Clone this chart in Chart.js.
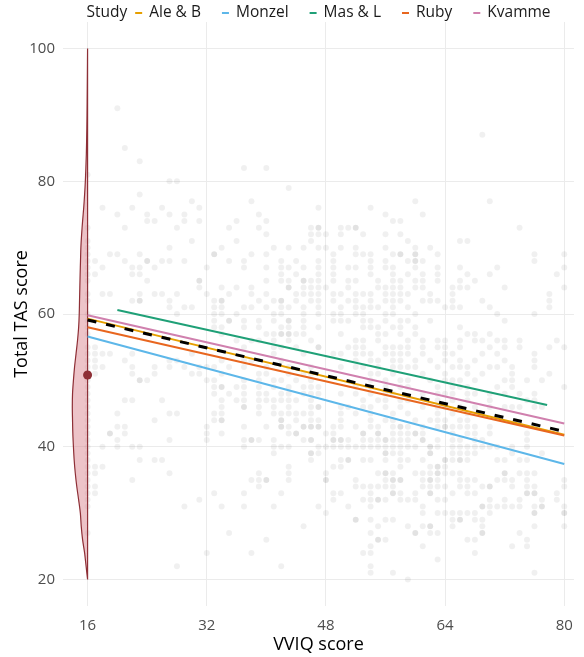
<!DOCTYPE html>
<html>
<head>
<meta charset="utf-8">
<script src="https://cdn.jsdelivr.net/npm/chart.js@4.4.1/dist/chart.umd.min.js"></script>
<style>
  html, body { margin: 0; padding: 0; background: #fff; }
  canvas { display: block; }
</style>
</head>
<body>
<canvas id="tasChart" width="584" height="657"></canvas>
<script>
// studies and their fitted lines
const studies = ['Ale & B', 'Monzel', 'Mas & L', 'Ruby', 'Kvamme'];
const studyColors = ['#E69F00', '#5DB7E9', '#1FA077', '#E8661F', '#D080AE'];
const lineStartX = [16, 16, 20, 16, 16];
const lineEndX = [80, 80, 77.7, 80, 80];
const lineStartY = [59.3, 56.6, 60.6, 58.0, 59.8];
const lineEndY = [41.8, 37.4, 46.3, 41.7, 43.5];

// pooled fit (dashed)
const pooledX = [16, 80];
const pooledY = [59.1, 42.3];

// TAS density at VVIQ = 16 (half violin), width in VVIQ units
const violinY = [20, 22, 24, 26, 28, 30, 32, 34, 36, 38, 40, 42, 44, 46, 48, 50, 52, 54, 56, 58, 60, 62, 64, 66, 68, 70, 72, 74, 76, 78, 80, 84, 88, 92, 96, 100];
const violinWidth = [0, 0.2, 0.4, 0.67, 0.85, 0.97, 1.2, 1.45, 1.65, 1.8, 1.9, 1.98, 2.02, 2.05, 2.02, 1.9, 1.75, 1.55, 1.35, 1.2, 1.12, 1.08, 1.04, 1.0, 0.95, 0.9, 0.8, 0.67, 0.52, 0.4, 0.3, 0.17, 0.1, 0.06, 0.03, 0];
const meanTAS = 50.8;

// individual participants: TAS level -> VVIQ scores at that level
const tasLevels = [91, 87, 85, 83, 82, 81, 80, 79, 78, 77, 76, 75, 74, 73, 72, 71, 70, 69, 68, 67, 66, 65, 64, 63, 62, 61, 60, 59, 58, 57, 56, 55, 54, 53, 52, 51, 50, 49, 48, 47, 46, 45, 44, 43, 42, 41, 40, 39, 38, 37, 36, 35, 34, 33, 32, 31, 30, 29, 28, 27, 26, 25, 24, 23, 22, 21, 20];
const vviqAtLevel = [
  [20],
  [69],
  [21],
  [23],
  [37, 40],
  [16],
  [27, 28],
  [43],
  [23],
  [30, 38, 60, 70],
  [18, 22, 26, 31, 47, 54],
  [20, 24, 27, 29, 39, 56, 61],
  [24, 25, 29, 31, 36, 40, 57, 58],
  [16, 21, 28, 35, 39, 46, 47, 47, 50, 51, 52, 52, 74],
  [40, 46, 47, 48, 50, 53, 56, 58],
  [16, 30, 36, 46, 59, 66, 67],
  [16, 27, 34, 41, 43, 45, 47, 48, 50, 52, 56, 60, 62],
  [16, 19, 20, 23, 33, 33, 38, 40, 49, 52, 53, 54, 57, 58, 58, 60, 60, 63, 76, 80],
  [16, 17, 21, 24, 24, 26, 27, 29, 35, 37, 42, 44, 47, 49, 54, 56, 59, 60, 60, 61, 76],
  [16, 18, 22, 23, 25, 32, 37, 40, 42, 43, 45, 47, 49, 51, 52, 54, 56, 57, 60, 63, 66, 71, 80],
  [16, 17, 22, 23, 42, 44, 47, 49, 54, 57, 59, 61, 63, 67, 70, 79],
  [16, 24, 31, 31, 40, 42, 43, 45, 45, 46, 47, 49, 51, 52, 55, 57, 58, 60, 61, 63, 66, 68],
  [31, 34, 36, 38, 43, 43, 45, 46, 47, 48, 51, 55, 56, 57, 58, 60, 61, 65, 66, 67, 72, 80],
  [16, 18, 19, 23, 25, 26, 28, 32, 35, 38, 40, 44, 45, 46, 47, 49, 50, 52, 53, 54, 56, 57, 58, 59, 62, 65, 78],
  [16, 22, 23, 23, 27, 33, 34, 34, 39, 41, 42, 42, 44, 46, 47, 49, 51, 52, 54, 56, 57, 58, 61, 62, 63, 65, 69, 78],
  [27, 29, 30, 33, 34, 37, 38, 40, 42, 43, 45, 47, 50, 52, 53, 54, 55, 57, 59, 64, 65, 66, 70, 78],
  [16, 28, 33, 34, 36, 41, 42, 45, 47, 49, 50, 52, 53, 56, 57, 60, 71, 76],
  [16, 33, 35, 35, 37, 39, 41, 43, 43, 45, 49, 50, 51, 53, 54, 56, 58, 59, 62, 72],
  [16, 33, 34, 37, 39, 42, 43, 45, 47, 53, 54, 55, 57, 58, 60, 66],
  [16, 34, 40, 41, 42, 42, 43, 43, 44, 45, 50, 55, 56, 58, 60, 67, 68, 70],
  [36, 38, 39, 41, 43, 46, 52, 53, 55, 59, 61, 63, 64, 66, 68, 69, 71, 72, 74, 79],
  [16, 17, 37, 41, 42, 44, 47, 47, 51, 52, 53, 56, 57, 58, 59, 61, 63, 64, 66, 70, 72, 74, 78, 80],
  [16, 17, 18, 19, 22, 30, 41, 45, 49, 50, 52, 53, 54, 56, 57, 58, 59, 61, 64, 65, 69, 71, 76],
  [16, 17, 21, 27, 28, 34, 37, 38, 42, 52, 54, 55, 57, 58, 60, 62, 64, 66, 68, 72, 76],
  [16, 17, 18, 22, 25, 27, 29, 31, 32, 33, 35, 37, 40, 43, 46, 50, 52, 53, 55, 57, 58, 59, 60, 63, 65, 66, 67, 70, 71, 73, 76],
  [16, 17, 22, 25, 30, 31, 34, 39, 40, 43, 45, 46, 54, 55, 57, 61, 64, 67, 69, 73, 78],
  [16, 23, 23, 24, 32, 33, 37, 39, 41, 42, 44, 46, 54, 56, 58, 59, 62, 64, 65, 66, 68, 72, 73, 75, 77],
  [16, 33, 34, 34, 36, 37, 39, 41, 43, 45, 46, 47, 52, 54, 56, 58, 59, 63, 65, 66, 67, 71, 73, 80],
  [16, 33, 35, 37, 39, 40, 42, 43, 45, 46, 47, 50, 52, 54, 56, 57, 61, 63, 64, 65, 67, 68, 70, 72, 74, 76],
  [16, 21, 22, 26, 34, 36, 37, 39, 40, 41, 42, 43, 44, 46, 53, 55, 56, 58, 59, 63, 65, 67, 70, 75, 76],
  [16, 34, 37, 37, 39, 41, 43, 46, 47, 47, 50, 51, 53, 54, 56, 58, 61, 63, 64, 66, 68, 70, 72, 73, 74, 76, 77],
  [16, 20, 27, 28, 33, 34, 39, 41, 42, 43, 44, 45, 46, 50, 52, 54, 57, 59, 63, 65, 67],
  [16, 25, 33, 34, 34, 42, 42, 44, 46, 47, 50, 54, 56, 57, 60, 62, 63, 64, 66, 67],
  [16, 20, 21, 32, 37, 40, 42, 42, 43, 45, 45, 46, 46, 47, 47, 49, 50, 52, 54, 55, 57, 58, 58, 59, 61, 63, 64, 64, 65, 66, 67, 68, 70],
  [16, 19, 19, 21, 32, 34, 43, 44, 44, 48, 49, 53, 53, 55, 55, 57, 58, 59, 60, 60, 61, 65, 67, 68, 70, 75],
  [16, 20, 27, 32, 37, 38, 38, 39, 41, 45, 46, 46, 49, 49, 50, 50, 51, 53, 54, 55, 56, 56, 57, 58, 59, 61, 61, 63, 65, 66, 68, 69, 75],
  [16, 18, 20, 22, 23, 37, 41, 42, 43, 47, 48, 49, 50, 51, 52, 53, 54, 55, 56, 57, 58, 59, 60, 62, 62, 63, 65, 66, 67, 68, 69, 70, 71, 73, 75],
  [16, 41, 46, 46, 47, 56, 56, 57, 58, 62, 62, 65, 66, 67, 68, 73, 77],
  [16, 23, 25, 26, 46, 50, 51, 51, 53, 54, 56, 58, 59, 61, 64, 64, 65, 66, 66, 67, 71, 72, 74, 75],
  [16, 17, 18, 43, 49, 50, 58, 62, 63, 63, 64],
  [16, 17, 27, 39, 43, 48, 55, 56, 56, 57, 60, 61, 62, 63, 63, 64, 65, 66, 72, 72, 74, 75, 76],
  [16, 22, 38, 39, 40, 40, 43, 48, 48, 52, 56, 57, 57, 58, 58, 61, 62, 62, 63, 66, 67, 68, 71, 72, 73, 75, 80],
  [16, 17, 39, 52, 53, 54, 55, 56, 57, 61, 62, 63, 64, 66, 67, 69, 70, 70, 73, 75, 76, 80],
  [16, 17, 33, 37, 42, 49, 50, 54, 57, 57, 58, 60, 62, 62, 65, 67, 68, 75, 75, 76, 76, 79],
  [16, 31, 49, 53, 54, 55, 55, 56, 58, 59, 60, 63, 64, 70, 72, 74, 77, 79],
  [16, 29, 34, 37, 41, 47, 51, 54, 61, 69, 69, 70, 71, 72, 73, 74, 76, 77, 77, 80],
  [48, 61, 63, 64, 65, 66, 67, 68, 70, 76, 76, 80, 80],
  [52, 52, 54, 56, 57, 65, 66, 66, 68, 69],
  [45, 55, 59, 61, 62, 62, 65, 69, 76, 80],
  [16, 35, 54, 60, 60, 62, 63, 69, 69, 74],
  [40, 55, 55, 56, 67, 68, 75],
  [54, 61, 73, 75],
  [32, 38, 53, 54, 68],
  [63],
  [28, 42, 54],
  [54, 57, 76],
  [59]
];

// axis ticks
const xTicks = [16, 32, 48, 64, 80];
const yTicks = [20, 40, 60, 80, 100];

const FONT = '"Open Sans", "DejaVu Sans", sans-serif';

const participants = [];
tasLevels.forEach((tas, i) => {
  vviqAtLevel[i].forEach(v => participants.push({ x: v, y: tas }));
});

// half violin: left outline going up, then back down along x = 16
const violinPath = violinY.map((y, i) => ({ x: 16 - violinWidth[i], y: y }));
violinPath.push({ x: 16, y: 100 }, { x: 16, y: 20 });

const datasets = [
  {
    label: 'participants',
    data: participants,
    pointRadius: 3,
    pointHoverRadius: 3,
    pointBackgroundColor: 'rgba(0,0,0,0.058)',
    pointBorderWidth: 0,
    order: 20
  },
  {
    label: 'density',
    data: violinPath,
    showLine: true,
    tension: 0.3,
    pointRadius: 0,
    borderColor: '#8E2F36',
    borderWidth: 1.2,
    backgroundColor: 'rgba(214, 122, 134, 0.45)',
    fill: 'shape',
    order: 15
  }
];

studies.forEach((name, i) => {
  datasets.push({
    label: name,
    data: [{ x: lineStartX[i], y: lineStartY[i] }, { x: lineEndX[i], y: lineEndY[i] }],
    showLine: true,
    pointRadius: 0,
    borderColor: studyColors[i],
    borderWidth: 2,
    order: 10 - i
  });
});

datasets.push({
  label: 'pooled',
  data: pooledX.map((x, i) => ({ x: x, y: pooledY[i] })),
  showLine: true,
  pointRadius: 0,
  borderColor: '#000',
  borderWidth: 3,
  borderDash: [9, 10],
  order: 2
});

datasets.push({
  label: 'mean',
  data: [{ x: 16, y: meanTAS }],
  pointRadius: 4.5,
  pointBackgroundColor: '#8E2F36',
  pointBorderWidth: 0,
  order: 1
});

// ggplot-style inline legend: "Study  - Ale & B  - Monzel ..."
const studyLegend = {
  id: 'studyLegend',
  afterDraw(chart) {
    const ctx = chart.ctx;
    ctx.save();
    ctx.font = '15.5px ' + FONT;
    ctx.textBaseline = 'middle';
    const keyW = 7, keyGap = 7, itemGap = 21, titleGap = 8;
    let total = ctx.measureText('Study').width + titleGap;
    studies.forEach((s, i) => {
      total += keyW + keyGap + ctx.measureText(s).width + (i < studies.length - 1 ? itemGap : 0);
    });
    const area = chart.chartArea;
    let x = (area.left + area.right) / 2 - total / 2;
    const y = 13;
    ctx.fillStyle = '#1a1a1a';
    ctx.fillText('Study', x, y);
    x += ctx.measureText('Study').width + titleGap;
    studies.forEach((s, i) => {
      ctx.strokeStyle = studyColors[i];
      ctx.lineWidth = 2;
      ctx.beginPath();
      ctx.moveTo(x, y);
      ctx.lineTo(x + keyW, y);
      ctx.stroke();
      x += keyW + keyGap;
      ctx.fillStyle = '#1a1a1a';
      ctx.fillText(s, x, y);
      x += ctx.measureText(s).width + itemGap;
    });
    ctx.restore();
  }
};

const ctx = document.getElementById('tasChart').getContext('2d');
const tasChart = new Chart(ctx, {
  type: 'scatter',
  data: { datasets: datasets },
  options: {
    responsive: false,
    animation: false,
    devicePixelRatio: 1,
    layout: { padding: { top: 22, right: 9, left: 0, bottom: 0 } },
    plugins: {
      legend: { display: false },
      tooltip: { enabled: false }
    },
    scales: {
      x: {
        type: 'linear',
        min: 12.7,
        max: 81.3,
        afterBuildTicks: (scale) => { scale.ticks = xTicks.map(v => ({ value: v })); },
        afterFit: (scale) => { scale.height = 51; },
        grid: { color: '#EBEBEB', lineWidth: 1, drawTicks: false },
        border: { display: false },
        ticks: { color: '#4D4D4D', font: { family: FONT, size: 15 }, padding: 11 },
        title: { display: true, text: 'VVIQ score', color: '#000', font: { family: FONT, size: 18 }, padding: { top: 0, bottom: 1 } }
      },
      y: {
        type: 'linear',
        min: 16,
        max: 104,
        afterBuildTicks: (scale) => { scale.ticks = yTicks.map(v => ({ value: v })); },
        afterFit: (scale) => { scale.width = 63; },
        grid: { color: '#EBEBEB', lineWidth: 1, drawTicks: false },
        border: { display: false },
        ticks: { color: '#4D4D4D', font: { family: FONT, size: 15 }, padding: 8 },
        title: { display: true, text: 'Total TAS score', color: '#000', font: { family: FONT, size: 18 }, padding: { top: 11, bottom: 0 } }
      }
    }
  },
  plugins: [studyLegend]
});
</script>
</body>
</html>
